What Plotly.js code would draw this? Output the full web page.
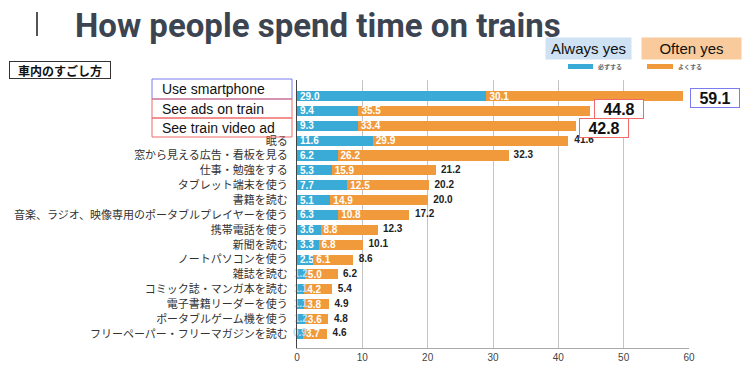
<!DOCTYPE html>
<html><head><meta charset="utf-8">
<script src="https://cdn.plot.ly/plotly-3.0.1.min.js"></script>
<style>html,body{margin:0;padding:0;background:#fff}#chart{width:750px;height:369px}</style>
</head><body><div id="chart"></div>
<script>
const categories = ["Use smartphone","See ads on train","See train video ad","眠る","窓から見える広告・看板を見る","仕事・勉強をする","タブレット端末を使う","書籍を読む","音楽、ラジオ、映像専用のポータブルプレイヤーを使う","携帯電話を使う","新聞を読む","ノートパソコンを使う","雑誌を読む","コミック誌・マンガ本を読む","電子書籍リーダーを使う","ポータブルゲーム機を使う","フリーペーパー・フリーマガジンを読む"];
const alwaysYes = [29.0,9.4,9.3,11.6,6.2,5.3,7.7,5.1,6.3,3.6,3.3,2.5,1.2,1.1,1.1,1.2,0.9];
const oftenYes = [30.1,35.5,33.4,29.9,26.2,15.9,12.5,14.9,10.8,8.8,6.8,6.1,5.0,4.2,3.8,3.6,3.7];
const totals = [59.1,44.8,42.8,41.6,32.3,21.2,20.2,20.0,17.2,12.3,10.1,8.6,6.2,5.4,4.9,4.8,4.6];
const xTicks = [0,10,20,30,40,50,60];
const boxedRows = 3;
const smallLimit = 2;

const idx = categories.map((c,i)=>i);
const tickText = categories.map((c,i)=> i < boxedRows ? "" : c);
const BLUE = "#3aabd6", ORANGE = "#f09a3b";

// plot area pixel helpers (for decorations only)
const PL = 297, PR = 689, PT = 80, PB = 348;
const px = x => (x - PL) / (PR - PL);
const py = y => (PB - y) / (PB - PT);

const smallIdx = idx.filter(i => alwaysYes[i] < smallLimit);

const traces = [
  {type:"bar", orientation:"h", y:idx, x:alwaysYes, marker:{color:BLUE},
   text:alwaysYes.map(v=> v < smallLimit ? "" : "<b>"+v.toFixed(1)+"</b>"), textposition:"inside", insidetextanchor:"start", constraintext:"none",
   textfont:{color:"#fff", size:10, family:"Arial, Liberation Sans, sans-serif"}, hoverinfo:"skip"},
  {type:"bar", orientation:"h", y:idx, x:oftenYes, marker:{color:ORANGE},
   text:oftenYes.map(v=>"<b>"+v.toFixed(1)+"</b>"), textposition:"inside", insidetextanchor:"start", constraintext:"none",
   textfont:{color:"#fff", size:10, family:"Arial, Liberation Sans, sans-serif"}, hoverinfo:"skip"},
  {type:"scatter", mode:"text", y:smallIdx, x:smallIdx.map(i=>alwaysYes[i]/2),
   text:smallIdx.map(i=>"<b>"+alwaysYes[i].toFixed(1)+"</b>"), textposition:"middle center",
   textfont:{color:"#b5dff2", size:10, family:"Arial, Liberation Sans, sans-serif"}, hoverinfo:"skip", cliponaxis:false},
  {type:"scatter", mode:"text", y:idx.slice(boxedRows), x:totals.slice(boxedRows),
   text:totals.slice(boxedRows).map(v=>"<b>  "+v.toFixed(1)+"</b>"), textposition:"middle right",
   textfont:{color:"#222", size:10, family:"Arial, Liberation Sans, sans-serif"}, hoverinfo:"skip", cliponaxis:false}
];

const annotations = [];
const shapes = [];
const boxColors = ["#7b7bf0","#f06a6a","#f06a6a"];
const boxEdges = [[79,99],[99,118],[118,137]];
for (let i=0;i<boxedRows;i++){
  const [t,b] = boxEdges[i];
  shapes.push({type:"rect", xref:"paper", yref:"paper", x0:px(152), x1:px(292), y0:py(b), y1:py(t),
    line:{color:boxColors[i], width:1}, fillcolor:"rgba(0,0,0,0)"});
  annotations.push({xref:"paper", yref:"paper", x:px(160), y:py((t+b)/2), xanchor:"left", yanchor:"middle",
    text:categories[i], showarrow:false, font:{family:"Arial, Liberation Sans, sans-serif", size:14, color:"#111"}});
}
const totShift = [[7,-1.5],[4,2],[2.5,-2]];
for (let i=0;i<boxedRows;i++){
  annotations.push({xref:"x", yref:"y", x:totals[i], y:i, xanchor:"left", yanchor:"middle",
    xshift:totShift[i][0], yshift:totShift[i][1],
    text:"<b>"+totals[i].toFixed(1)+"</b>", showarrow:false, width:46, height:16, borderpad:1,
    bordercolor:boxColors[i], borderwidth:1, bgcolor:"#fff",
    font:{family:"Arial, Liberation Sans, sans-serif", size:16, color:"#111"}});
}
annotations.push({xref:"paper", yref:"paper", x:px(9), y:py(70), xanchor:"left", yanchor:"middle",
  text:"<b>車内のすごし方</b>", showarrow:false, bordercolor:"#333", borderwidth:1, borderpad:1, width:98, height:14,
  font:{family:"Noto Sans CJK JP, sans-serif", size:12, color:"#111"}});
annotations.push({xref:"paper", yref:"paper", x:px(545), y:py(49), xanchor:"left", yanchor:"middle",
  text:"Always yes", showarrow:false, bgcolor:"#cfe2f3", width:83, height:19, borderpad:1,
  font:{family:"Liberation Sans, Arial, sans-serif", size:15, color:"#111"}});
annotations.push({xref:"paper", yref:"paper", x:px(641), y:py(49), xanchor:"left", yanchor:"middle",
  text:"Often yes", showarrow:false, bgcolor:"#f9cb9c", width:97, height:19, borderpad:1,
  font:{family:"Liberation Sans, Arial, sans-serif", size:15, color:"#111"}});
annotations.push({xref:"paper", yref:"paper", x:px(596), y:py(66.5), xanchor:"left", yanchor:"middle",
  text:"<b>必ずする</b>", showarrow:false, font:{family:"Noto Sans CJK JP, sans-serif", size:6, color:"#666"}});
annotations.push({xref:"paper", yref:"paper", x:px(676), y:py(66.5), xanchor:"left", yanchor:"middle",
  text:"<b>よくする</b>", showarrow:false, font:{family:"Noto Sans CJK JP, sans-serif", size:6, color:"#666"}});

shapes.push(
  {type:"line", xref:"paper", yref:"paper", x0:px(37), x1:px(37), y0:py(12), y1:py(36), line:{color:"#555", width:2}},
  {type:"rect", xref:"paper", yref:"paper", x0:px(568), x1:px(593), y0:py(69), y1:py(64), fillcolor:BLUE, line:{width:0}},
  {type:"rect", xref:"paper", yref:"paper", x0:px(647), x1:px(673), y0:py(69), y1:py(64), fillcolor:ORANGE, line:{width:0}}
);

const layout = {
  width:750, height:369, margin:{l:297, r:61, t:80, b:21},
  paper_bgcolor:"#fff", plot_bgcolor:"#fff",
  barmode:"stack", bargap:0.32, showlegend:false,
  title:{text:"<b>How people spend time on trains</b>", x:0.1, xanchor:"left", y:0.932, yanchor:"middle",
    font:{family:"Roboto, Arial, sans-serif", size:33, color:"#3c4452"}},
  xaxis:{range:[0,60], tickvals:xTicks, ticktext:xTicks.map(String), showgrid:true, gridcolor:"#c4c4c4", gridwidth:1,
    zeroline:false, showline:true, linecolor:"#aaa", ticks:"", tickfont:{family:"Arial, sans-serif", size:10, color:"#444"}, fixedrange:true},
  yaxis:{range:[16.95,-1.08], tickvals:idx, ticktext:tickText, showgrid:false, zeroline:false, showline:true, linecolor:"#444",
    ticks:"", ticklabelstandoff:6, tickfont:{family:"Noto Sans CJK JP, sans-serif", size:11, color:"#333"}, fixedrange:true},
  annotations:annotations, shapes:shapes
};
Plotly.newPlot("chart", traces, layout, {staticPlot:true, displayModeBar:false});
</script></body></html>
